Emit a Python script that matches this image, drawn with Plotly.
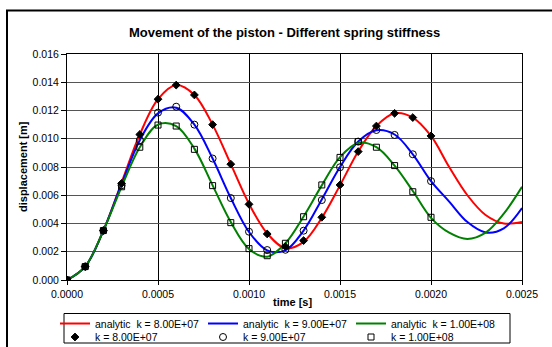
import plotly.graph_objects as go

# ---- data ----
t_curve = [0.0000, 0.0001, 0.0002, 0.0003, 0.0004, 0.0005, 0.0006, 0.0007, 0.0008, 0.0009,
           0.0010, 0.0011, 0.0012, 0.0013, 0.0014, 0.0015, 0.0016, 0.0017, 0.0018, 0.0019,
           0.0020, 0.0021, 0.0022, 0.0023, 0.0024, 0.0025]

an_k8 = [0.0, 0.00095, 0.0035, 0.0069, 0.0103, 0.0128, 0.0138, 0.0131, 0.0110, 0.0082,
         0.0054, 0.0033, 0.00225, 0.0027, 0.0044, 0.0067, 0.0091, 0.0109, 0.0118, 0.0115,
         0.0102, 0.0080, 0.0060, 0.0046, 0.0040, 0.0041]
an_k9 = [0.0, 0.00095, 0.0035, 0.0068, 0.0099, 0.0118, 0.0122, 0.0110, 0.0086, 0.0058,
         0.0034, 0.0021, 0.0021, 0.0035, 0.0057, 0.0080, 0.0098, 0.0106, 0.0103, 0.0089,
         0.0070, 0.00555, 0.0041, 0.00337, 0.00366, 0.0051]
an_k10 = [0.0, 0.00095, 0.0035, 0.0066, 0.0094, 0.0110, 0.0109, 0.0093, 0.0067, 0.0041,
          0.0022, 0.00165, 0.0026, 0.0045, 0.0067, 0.0087, 0.0097, 0.0094, 0.0081, 0.0063,
          0.0044, 0.00335, 0.0029, 0.00335, 0.0047, 0.0066]

t_pts = [0.0000, 0.0001, 0.0002, 0.0003, 0.0004, 0.0005, 0.0006, 0.0007, 0.0008, 0.0009,
         0.0010, 0.0011, 0.0012, 0.0013, 0.0014, 0.0015, 0.0016, 0.0017, 0.0018, 0.0019,
         0.0020]
pt_k8 = [0.0, 0.00095, 0.0035, 0.00684, 0.0103, 0.0128, 0.0138, 0.0131, 0.0110, 0.0082,
         0.00536, 0.00326, 0.00236, 0.00279, 0.00444, 0.00673, 0.00909, 0.0109, 0.0118, 0.0115,
         0.0102]
pt_k9 = [0.0, 0.00095, 0.0035, 0.0067, 0.0099, 0.01185, 0.01227, 0.0110, 0.0086, 0.0058,
         0.00342, 0.00212, 0.00214, 0.00349, 0.00566, 0.00798, 0.0098, 0.01062, 0.01027, 0.0089,
         0.0070]
pt_k10 = [0.0, 0.00095, 0.0035, 0.0066, 0.0094, 0.01097, 0.0109, 0.00925, 0.00668, 0.00406,
          0.00222, 0.00172, 0.0026, 0.00448, 0.00673, 0.00868, 0.0098, 0.0094, 0.0081, 0.00625,
          0.00444]

line_names = ["analytic\u00a0 k = 8.00E+07", "analytic\u00a0 k = 9.00E+07", "analytic\u00a0 k = 1.00E+08"]
pt_names = ["k = 8.00E+07", "k = 9.00E+07", "k = 1.00E+08"]

x_ticks = [0.0000, 0.0005, 0.0010, 0.0015, 0.0020, 0.0025]
y_ticks = [0.000, 0.002, 0.004, 0.006, 0.008, 0.010, 0.012, 0.014, 0.016]

FONT = "Liberation Sans, Arial, sans-serif"

fig = go.Figure()
for ys, nm, col in zip([an_k8, an_k9, an_k10], line_names, ["#FF0000", "#0000FF", "#008000"]):
    fig.add_trace(go.Scatter(x=t_curve, y=ys, name=nm, mode="lines",
                             line=dict(color=col, width=2, shape="spline", smoothing=1.0),
                             legend="legend"))
for ys, nm, sym, sz in zip([pt_k8, pt_k9, pt_k10], pt_names,
                           ["diamond", "circle-open", "square-open"], [6, 7, 6]):
    fig.add_trace(go.Scatter(x=t_pts, y=ys, name=nm, mode="markers",
                             marker=dict(symbol=sym, size=sz, color="black",
                                         line=dict(color="black", width=1)),
                             legend="legend2"))

L, R, T, B = 67, 30, 54, 67
W, H = 552, 347
pw, ph = W - L - R, H - T - B

def px_x(p):
    return (p - L) / pw

def px_y(p):
    return (H - B - p) / ph

fig.update_layout(
    width=W, height=H,
    margin=dict(l=L, r=R, t=T, b=B, pad=0, autoexpand=False),
    paper_bgcolor="white", plot_bgcolor="white",
    font=dict(family=FONT, size=10, color="black"),
    showlegend=True,
    legend=dict(orientation="h", x=px_x(55), y=px_y(323.5), xanchor="left", yanchor="middle",
                entrywidth=103, entrywidthmode="pixels", bgcolor="rgba(0,0,0,0)",
                font=dict(family=FONT, size=10.5), tracegroupgap=0, itemwidth=30),
    legend2=dict(orientation="h", x=px_x(55), y=px_y(337), xanchor="left", yanchor="middle",
                 entrywidth=103, entrywidthmode="pixels", bgcolor="rgba(0,0,0,0)",
                 font=dict(family=FONT, size=10.5), tracegroupgap=0, itemwidth=30),
    xaxis=dict(range=[0, 0.0025], tickvals=x_ticks, tickformat=".4f",
               showgrid=True, gridcolor="black", gridwidth=1, zeroline=False,
               showline=True, linecolor="black", linewidth=1, mirror=True,
               ticks="outside", ticklen=4, tickcolor="black",
               tickfont=dict(family=FONT, size=10.5)),
    yaxis=dict(range=[0, 0.016], tickvals=y_ticks, tickformat=".3f",
               showgrid=True, gridcolor="#555555", gridwidth=1, zeroline=False,
               showline=True, linecolor="black", linewidth=1, mirror=True,
               ticks="outside", ticklen=5, tickcolor="black",
               tickfont=dict(family=FONT, size=10.5)),
)

fig.add_annotation(text="<b>Movement of the piston - Different spring stiffness</b>",
                   xref="paper", yref="paper", x=px_x(284), y=px_y(32),
                   xanchor="center", yanchor="middle", showarrow=False,
                   font=dict(family=FONT, size=13, color="black"))
fig.add_annotation(text="<b>time [s]</b>", xref="paper", yref="paper",
                   x=px_x(292), y=px_y(302), xanchor="center", yanchor="middle",
                   showarrow=False, font=dict(family=FONT, size=11, color="black"))
fig.add_annotation(text="<b>displacement [m]</b>", xref="paper", yref="paper",
                   x=px_x(23), y=px_y(167), xanchor="center", yanchor="middle",
                   textangle=-90, showarrow=False, font=dict(family=FONT, size=11, color="black"))

# chart-area frame (left and top edges visible) and legend box
fig.add_shape(type="line", xref="paper", yref="paper", x0=px_x(7), x1=px_x(7),
              y0=px_y(10.5), y1=px_y(360), line=dict(color="black", width=2))
fig.add_shape(type="line", xref="paper", yref="paper", x0=px_x(6), x1=px_x(570),
              y0=px_y(10.5), y1=px_y(10.5), line=dict(color="black", width=2))
fig.add_shape(type="rect", xref="paper", yref="paper", x0=px_x(64), x1=px_x(510),
              y0=px_y(313.5), y1=px_y(343), line=dict(color="black", width=1),
              fillcolor="rgba(0,0,0,0)")

fig.write_html("out.html")
